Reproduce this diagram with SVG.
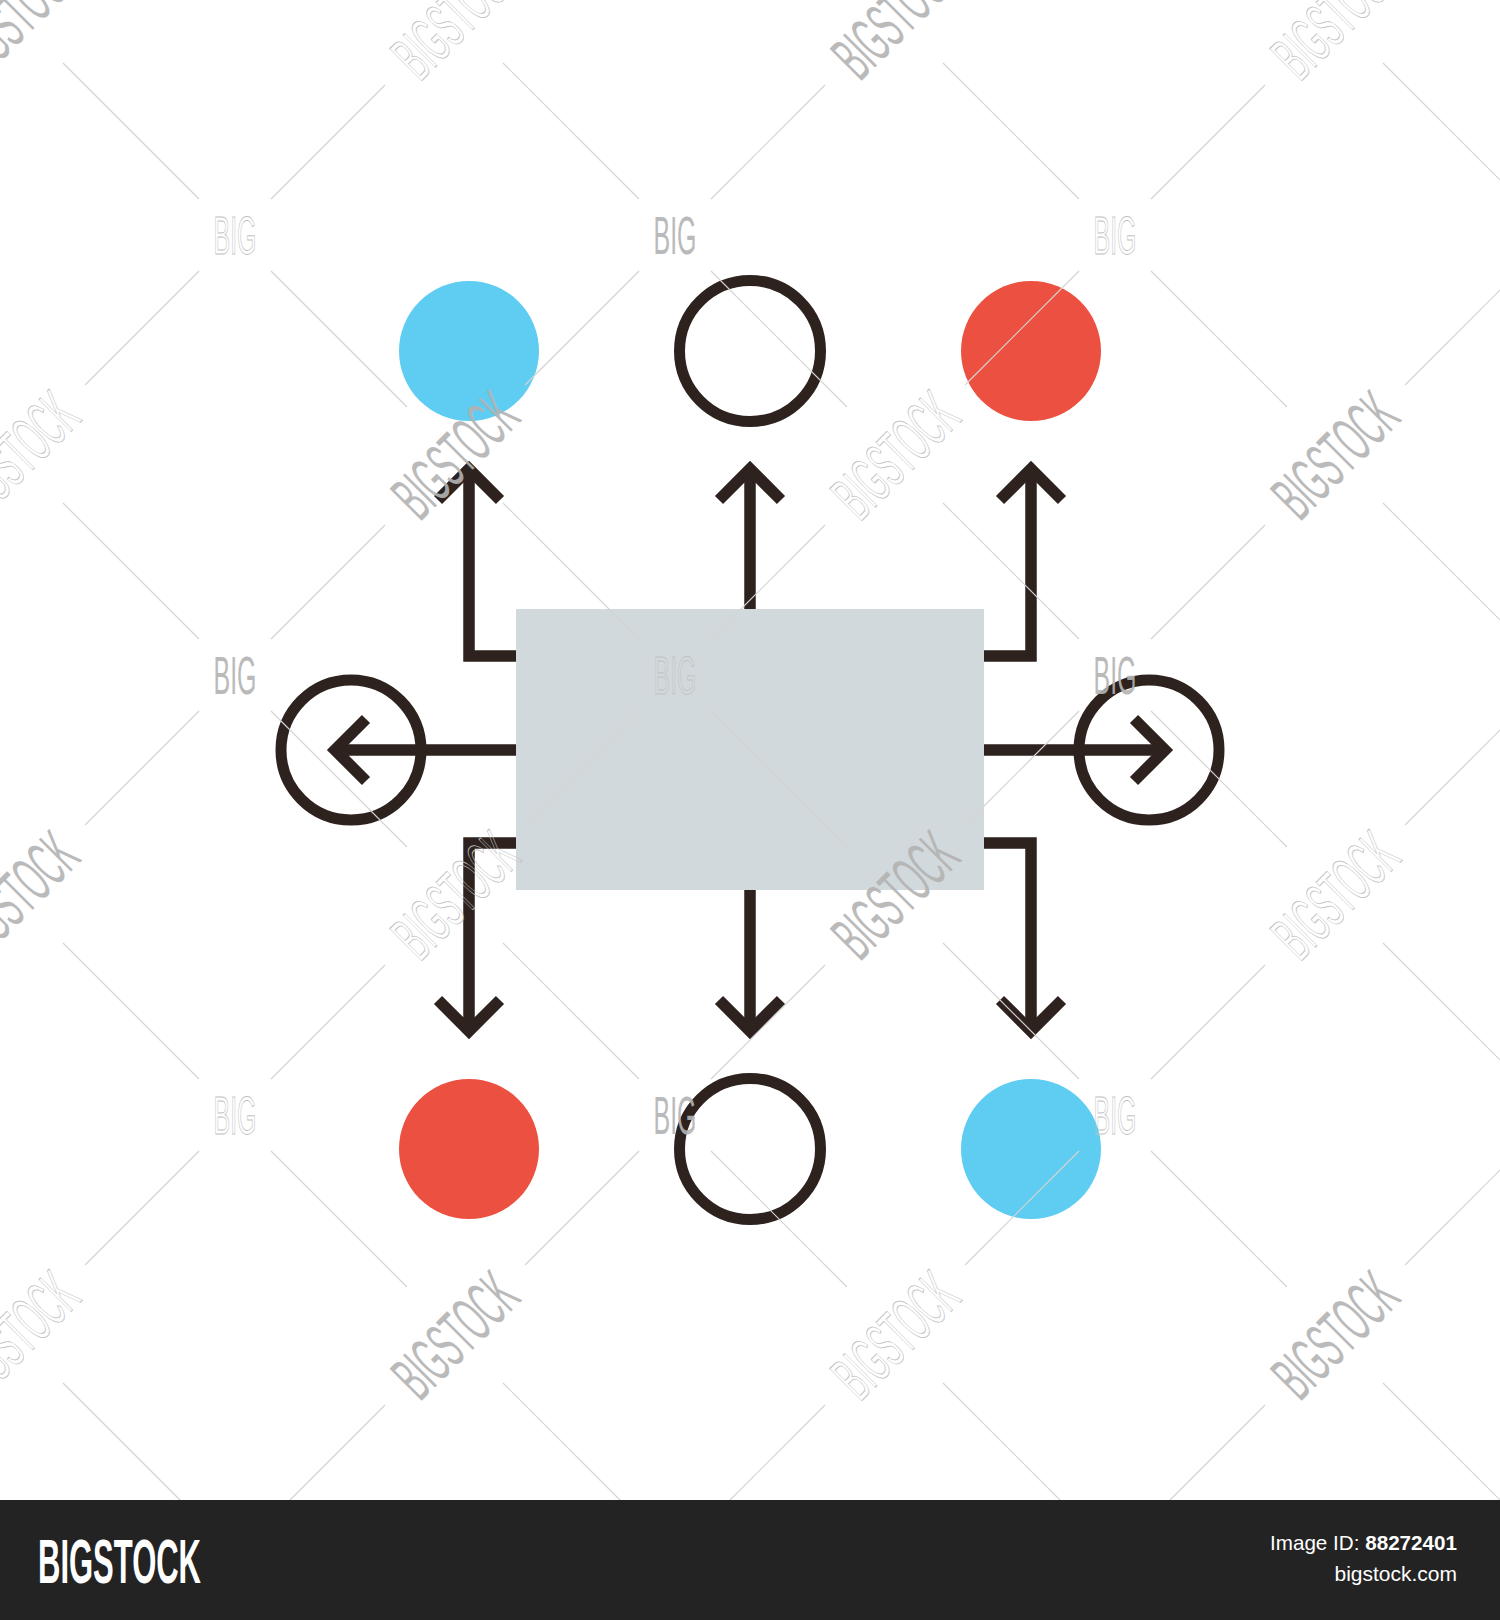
<svg xmlns="http://www.w3.org/2000/svg" xmlns:xlink="http://www.w3.org/1999/xlink" width="1500" height="1620" viewBox="0 0 1500 1620">
<style>
.ln{fill:none;stroke:#2d221e;stroke-width:11.5;stroke-linejoin:miter;stroke-linecap:butt}
.ring{fill:none;stroke:#2d221e;stroke-width:11}
.blue{fill:#5ecdf1}
.red{fill:#ec5040}
.box{fill:#d2d9dc}
.wl{stroke:#d4d4d4;stroke-width:1.2;fill:none}
.wt{font-family:"Liberation Sans Narrow","Liberation Sans",Arial,sans-serif;text-anchor:middle}
.wf{fill:#b3b3b3;opacity:0.9}
.wo{fill:none;stroke:#c2c2c2;stroke-width:1}
.bar{fill:#232323}
.bt{fill:#ffffff;font-family:"Liberation Sans Narrow","Liberation Sans",Arial,sans-serif}
</style>
<defs>
<g id="wx">
<line class="wl" x1="-36" y1="-36" x2="-172" y2="-172"/>
<line class="wl" x1="36" y1="36" x2="172" y2="172"/>
<line class="wl" x1="36" y1="-36" x2="150" y2="-150"/>
<line class="wl" x1="-36" y1="36" x2="-150" y2="150"/>
</g>
</defs>
<rect x="0" y="0" width="1500" height="1620" fill="#ffffff"/>

<g id="center-box"><rect class="box" x="516" y="609" width="468" height="281"/></g>

<g id="node-top-left"><circle class="blue" cx="469" cy="351" r="70"/></g>
<g id="node-top-middle"><circle class="ring" cx="750" cy="351" r="70.5"/></g>
<g id="node-top-right"><circle class="red" cx="1031" cy="351" r="70"/></g>
<g id="node-left"><circle class="ring" cx="351" cy="750" r="70"/></g>
<g id="node-right"><circle class="ring" cx="1149" cy="750" r="70"/></g>
<g id="node-bottom-left"><circle class="red" cx="469" cy="1149" r="70"/></g>
<g id="node-bottom-middle"><circle class="ring" cx="750" cy="1149" r="70.5"/></g>
<g id="node-bottom-right"><circle class="blue" cx="1031" cy="1149" r="70"/></g>

<g id="connectors">
<path class="ln" d="M516,656 H469 V472"/>
<polyline class="ln" points="438,500 469,469 500,500"/>
<path class="ln" d="M750,609 V472"/>
<polyline class="ln" points="719,500 750,469 781,500"/>
<path class="ln" d="M984,656 H1031 V472"/>
<polyline class="ln" points="1000,500 1031,469 1062,500"/>
<path class="ln" d="M516,750 H338"/>
<polyline class="ln" points="366,719 335,750 366,781"/>
<path class="ln" d="M984,750 H1162"/>
<polyline class="ln" points="1134,719 1165,750 1134,781"/>
<path class="ln" d="M516,843 H469 V1028"/>
<polyline class="ln" points="438,1000 469,1031 500,1000"/>
<path class="ln" d="M750,890 V1028"/>
<polyline class="ln" points="719,1000 750,1031 781,1000"/>
<path class="ln" d="M984,843 H1031 V1028"/>
<polyline class="ln" points="1000,1000 1031,1031 1062,1000"/>
</g>

<g id="watermark">
<use xlink:href="#wx" href="#wx" x="235" y="235"/>
<use xlink:href="#wx" href="#wx" x="675" y="235"/>
<use xlink:href="#wx" href="#wx" x="1115" y="235"/>
<use xlink:href="#wx" href="#wx" x="1555" y="235"/>
<use xlink:href="#wx" href="#wx" x="235" y="675"/>
<use xlink:href="#wx" href="#wx" x="675" y="675"/>
<use xlink:href="#wx" href="#wx" x="1115" y="675"/>
<use xlink:href="#wx" href="#wx" x="1555" y="675"/>
<use xlink:href="#wx" href="#wx" x="235" y="1115"/>
<use xlink:href="#wx" href="#wx" x="675" y="1115"/>
<use xlink:href="#wx" href="#wx" x="1115" y="1115"/>
<use xlink:href="#wx" href="#wx" x="1555" y="1115"/>
<use xlink:href="#wx" href="#wx" x="235" y="1555"/>
<use xlink:href="#wx" href="#wx" x="675" y="1555"/>
<use xlink:href="#wx" href="#wx" x="1115" y="1555"/>
<use xlink:href="#wx" href="#wx" x="1555" y="1555"/>

<text class="wt wo" x="235" y="254" font-size="53" textLength="43" lengthAdjust="spacingAndGlyphs">BIG</text>
<text class="wt wf" x="675" y="254" font-size="53" textLength="43" lengthAdjust="spacingAndGlyphs">BIG</text>
<text class="wt wo" x="1115" y="254" font-size="53" textLength="43" lengthAdjust="spacingAndGlyphs">BIG</text>
<text class="wt wf" x="235" y="694" font-size="53" textLength="43" lengthAdjust="spacingAndGlyphs">BIG</text>
<text class="wt wo" x="675" y="694" font-size="53" textLength="43" lengthAdjust="spacingAndGlyphs">BIG</text>
<text class="wt wf" x="1115" y="694" font-size="53" textLength="43" lengthAdjust="spacingAndGlyphs">BIG</text>
<text class="wt wo" x="235" y="1134" font-size="53" textLength="43" lengthAdjust="spacingAndGlyphs">BIG</text>
<text class="wt wf" x="675" y="1134" font-size="53" textLength="43" lengthAdjust="spacingAndGlyphs">BIG</text>
<text class="wt wo" x="1115" y="1134" font-size="53" textLength="43" lengthAdjust="spacingAndGlyphs">BIG</text>

<g transform="translate(15 15) rotate(-45)"><text class="wt wf" x="0" y="23" font-size="66" textLength="145" lengthAdjust="spacingAndGlyphs">BIGSTOCK</text></g>
<g transform="translate(455 15) rotate(-45)"><text class="wt wo" x="0" y="23" font-size="66" textLength="145" lengthAdjust="spacingAndGlyphs">BIGSTOCK</text></g>
<g transform="translate(895 15) rotate(-45)"><text class="wt wf" x="0" y="23" font-size="66" textLength="145" lengthAdjust="spacingAndGlyphs">BIGSTOCK</text></g>
<g transform="translate(1335 15) rotate(-45)"><text class="wt wo" x="0" y="23" font-size="66" textLength="145" lengthAdjust="spacingAndGlyphs">BIGSTOCK</text></g>
<g transform="translate(15 455) rotate(-45)"><text class="wt wo" x="0" y="23" font-size="66" textLength="145" lengthAdjust="spacingAndGlyphs">BIGSTOCK</text></g>
<g transform="translate(455 455) rotate(-45)"><text class="wt wf" x="0" y="23" font-size="66" textLength="145" lengthAdjust="spacingAndGlyphs">BIGSTOCK</text></g>
<g transform="translate(895 455) rotate(-45)"><text class="wt wo" x="0" y="23" font-size="66" textLength="145" lengthAdjust="spacingAndGlyphs">BIGSTOCK</text></g>
<g transform="translate(1335 455) rotate(-45)"><text class="wt wf" x="0" y="23" font-size="66" textLength="145" lengthAdjust="spacingAndGlyphs">BIGSTOCK</text></g>
<g transform="translate(15 895) rotate(-45)"><text class="wt wf" x="0" y="23" font-size="66" textLength="145" lengthAdjust="spacingAndGlyphs">BIGSTOCK</text></g>
<g transform="translate(455 895) rotate(-45)"><text class="wt wo" x="0" y="23" font-size="66" textLength="145" lengthAdjust="spacingAndGlyphs">BIGSTOCK</text></g>
<g transform="translate(895 895) rotate(-45)"><text class="wt wf" x="0" y="23" font-size="66" textLength="145" lengthAdjust="spacingAndGlyphs">BIGSTOCK</text></g>
<g transform="translate(1335 895) rotate(-45)"><text class="wt wo" x="0" y="23" font-size="66" textLength="145" lengthAdjust="spacingAndGlyphs">BIGSTOCK</text></g>
<g transform="translate(15 1335) rotate(-45)"><text class="wt wo" x="0" y="23" font-size="66" textLength="145" lengthAdjust="spacingAndGlyphs">BIGSTOCK</text></g>
<g transform="translate(455 1335) rotate(-45)"><text class="wt wf" x="0" y="23" font-size="66" textLength="145" lengthAdjust="spacingAndGlyphs">BIGSTOCK</text></g>
<g transform="translate(895 1335) rotate(-45)"><text class="wt wo" x="0" y="23" font-size="66" textLength="145" lengthAdjust="spacingAndGlyphs">BIGSTOCK</text></g>
<g transform="translate(1335 1335) rotate(-45)"><text class="wt wf" x="0" y="23" font-size="66" textLength="145" lengthAdjust="spacingAndGlyphs">BIGSTOCK</text></g>
</g>

<g id="footer">
<rect class="bar" x="0" y="1500" width="1500" height="120"/>
<text class="bt" x="38" y="1583" font-size="63" font-weight="bold" textLength="163" lengthAdjust="spacingAndGlyphs">BIGSTOCK</text>
<text class="bt" x="1457" y="1550" font-size="21" text-anchor="end" textLength="187" lengthAdjust="spacingAndGlyphs" font-family="Liberation Sans, Arial, sans-serif">Image ID: <tspan font-weight="bold">88272401</tspan></text>
<text class="bt" x="1457" y="1581" font-size="21" text-anchor="end" font-family="Liberation Sans, Arial, sans-serif">bigstock.com</text>
</g>
</svg>
